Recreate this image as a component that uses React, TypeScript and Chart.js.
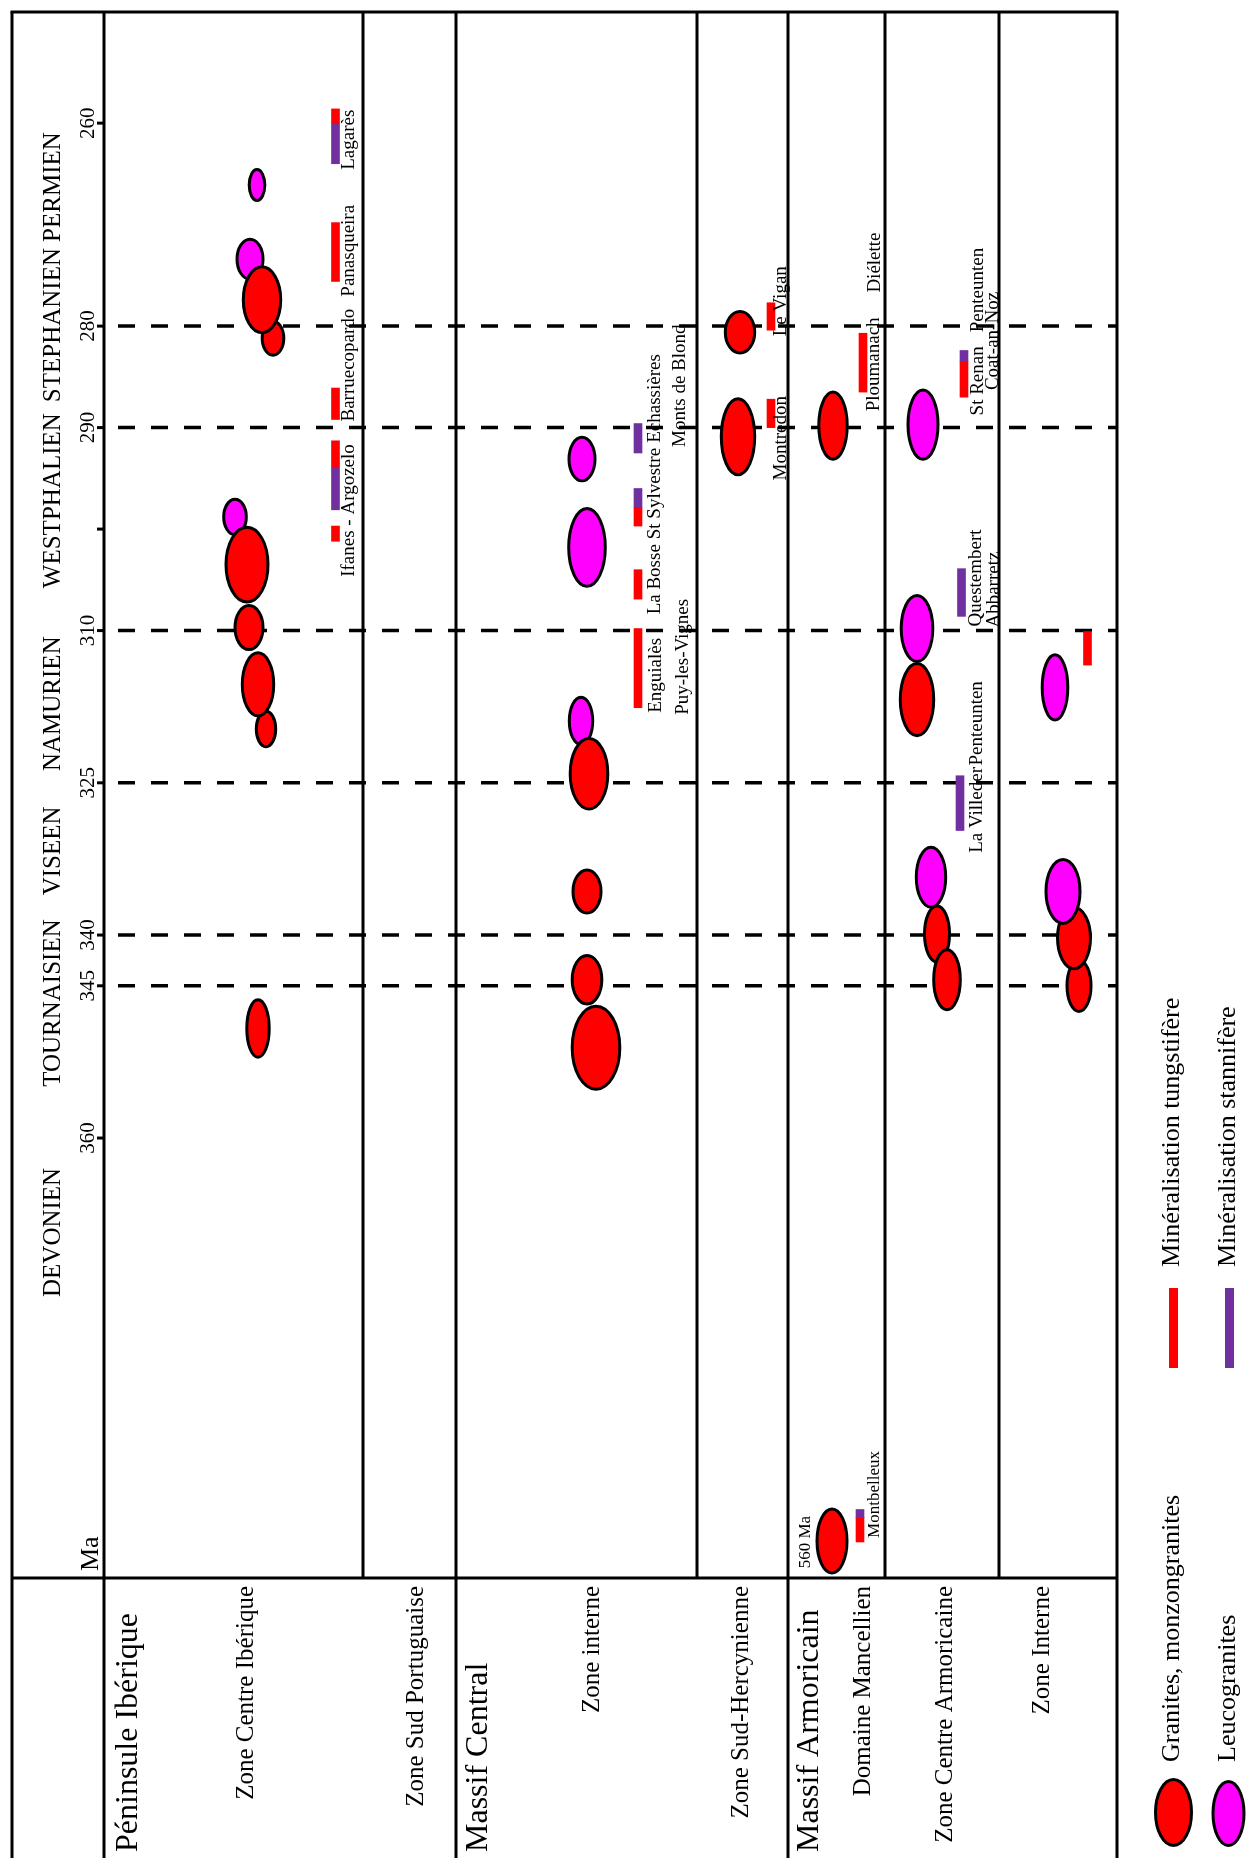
import React, { useEffect, useRef } from 'react';
import { Chart, registerables } from 'chart.js';

Chart.register(...registerables);

const W = 1246;
const H = 1858;
const SERIF = '"Liberation Serif", "Times New Roman", Times, serif';
const RED = '#ff0000';
const MAGENTA = '#ff00ff';
const PURPLE = '#7030a0';

// ---- time scale (Ma) ----
const tickValues = [260, 280, 290, 300, 310, 325, 340, 345, 360];
const tickLabels = ['260', '280', '290', '', '310', '325', '340', '345', '360'];
const stageBoundaries = [280, 290, 310, 325, 340, 345];
const stageNames = ['PERMIEN', 'STEPHANIEN', 'WESTPHALIEN', 'NAMURIEN', 'VISEEN', 'TOURNAISIEN', 'DEVONIEN'];
const stageLabelAge = [266.3, 279.9, 297.2, 317.2, 331.7, 346.7, 369.3];

// ---- regions and zones ----
const regionNames = ['Péninsule Ibérique', 'Massif Central', 'Massif Armoricain'];
const zoneNames = [
  'Zone Centre Ibérique',
  'Zone Sud Portuguaise',
  'Zone interne',
  'Zone Sud-Hercynienne',
  'Domaine Mancellien',
  'Zone Centre Armoricaine',
  'Zone Interne',
];

// ---- granites: [kind (G granite/monzogranite, L leucogranite), age Ma, ± Ma, lane, half width] ----
const granitesCentreIberique = [
  ['L', 266.1, 1.52, 152, 7.8],
  ['L', 273.4, 1.97, 145, 13],
  ['G', 281.2, 1.67, 168, 10.8],
  ['G', 277.4, 3.25, 157, 18.7],
  ['L', 298.8, 1.75, 130, 11.3],
  ['G', 303.5, 3.69, 142, 21],
  ['G', 309.7, 2.17, 144, 14],
  ['G', 319.7, 1.75, 161, 9.7],
  ['G', 315.3, 3.11, 153, 15.7],
  ['G', 349.2, 2.83, 153, 11.2],
];
const granitesMCInterne = [
  ['L', 293.1, 2.14, 477, 13],
  ['L', 301.8, 3.84, 482, 18.3],
  ['L', 318.9, 2.33, 476, 11.7],
  ['G', 324.1, 3.47, 484, 18.8],
  ['G', 335.7, 2.12, 482, 14],
  ['G', 344.4, 2.39, 482, 14.8],
  ['G', 351.1, 4.09, 491, 23.8],
];
const granitesSudHercynienne = [
  ['G', 280.6, 2.05, 635, 14.7],
  ['G', 290.9, 3.74, 633, 16.7],
];
const granitesMancellien = [
  ['G', 289.8, 3.31, 728, 14.2],
];
// Precambrian granite (560 Ma) shown at the foot of the scale
const precambrianGranite = ['G', 399.7, 3.15, 727, 15];
const precambrianLabel = '560 Ma';
const granitesCentreArmoricaine = [
  ['L', 289.7, 3.41, 818, 15],
  ['L', 309.8, 3.25, 812, 15.8],
  ['G', 316.8, 3.55, 812, 16.7],
  ['L', 334.3, 2.96, 826, 14.7],
  ['G', 339.9, 2.76, 832, 12.5],
  ['G', 344.4, 2.96, 842, 13.3],
];
const granitesArmoricainInterne = [
  ['L', 315.6, 3.21, 950, 12.8],
  ['G', 345.0, 2.53, 974, 12],
  ['G', 340.3, 3.01, 969, 16.5],
  ['L', 335.7, 3.15, 958, 17],
];

// ---- mineralisations: [lane, from Ma, to Ma] ----
const tungstenBars = [
  [230.5, 258.6, 260.0],
  [230.5, 269.8, 275.6],
  [230.5, 286.1, 289.2],
  [230.5, 291.3, 293.9],
  [230.5, 299.7, 301.2],
  [533, 297.9, 299.7],
  [533, 304.0, 306.9],
  [533, 309.8, 317.6],
  [666, 277.7, 280.4],
  [666, 287.2, 290.0],
  [758, 280.7, 286.5],
  [755, 397.4, 399.8],
  [859, 283.5, 287.0],
  [982.5, 310.1, 313.4],
];
const tinBars = [
  [230.5, 260.0, 264.0],
  [230.5, 293.9, 298.1],
  [533, 289.6, 292.5],
  [533, 296.0, 297.9],
  [755, 396.6, 397.4],
  [859, 282.4, 283.5],
  [856.5, 303.9, 308.6],
  [855, 324.3, 329.7],
];

// ---- deposit names: [text, lane (baseline), start age] ----
const depositLabels = [
  ['Lagarès', 248.7, 264.6],
  ['Panasqueira', 248.7, 277.1],
  ['Barruecopardo', 248.7, 289.4],
  ['Ifanes - Argozelo', 248.7, 304.7],
  ['La Bosse', 554.8, 308.4],
  ['St Sylvestre', 554.8, 301.0],
  ['Echassières', 554.8, 291.5],
  ['Monts de Blond', 579.8, 291.9],
  ['Enguialès', 556.3, 318.1],
  ['Puy-les-Vignes', 583.3, 318.3],
  ['Le Vigan', 681.4, 281.0],
  ['Montredon', 681.4, 295.2],
  ['Ploumanach', 774, 288.4],
  ['Diélette', 774.8, 276.7],
  ['St Renan', 878, 288.8],
  ['Penteunten', 878, 280.6],
  ['Coat-an-Noz', 893, 286.3],
  ['Questembert', 875.6, 309.6],
  ['Abbarretz', 893.8, 309.7],
  ['La Villeder', 877.3, 331.9],
  ['Penteunten', 877.3, 323.3],
];
const smallLabels = [
  ['Montbelleux', 773.5, 399.4],
];

// ---- layout (lanes) ----
const laneEdgesUpper = [258, 592, 780, 894]; // lines stopping at the table
const laneEdgesFull = [351, 683];              // lines running to the bottom
const laneRight = 1012;
const regionLanes = [31.5, 382, 713];
const zoneLanes = [148, 317.5, 494, 642.5, 764.5, 846.5, 944];

function vText(ctx: CanvasRenderingContext2D, text: string, x: number, y: number, size: number, align: CanvasTextAlign) {
  ctx.save();
  ctx.translate(x, y);
  ctx.rotate(-Math.PI / 2);
  ctx.font = `${size}px ${SERIF}`;
  ctx.textAlign = align;
  ctx.textBaseline = 'alphabetic';
  ctx.fillStyle = '#000';
  ctx.fillText(text, 0, 0);
  ctx.restore();
}

function drawEllipse(ctx: CanvasRenderingContext2D, cx: number, cy: number, rx: number, ry: number, fill: string) {
  ctx.beginPath();
  ctx.ellipse(cx, cy, rx, ry, 0, 0, Math.PI * 2);
  ctx.fillStyle = fill;
  ctx.fill();
  ctx.lineWidth = 3;
  ctx.strokeStyle = '#000';
  ctx.stroke();
}

const diagramPlugin = {
  id: 'diagram',
  beforeDatasetsDraw(chart: any) {
    const { ctx, chartArea: ca, scales } = chart;
    const x = scales.x;
    const y = scales.y;
    const xR = x.getPixelForValue(laneRight);
    ctx.save();
    ctx.strokeStyle = '#000';
    ctx.lineWidth = 3;
    ctx.lineCap = 'butt';
    const line = (x1: number, y1: number, x2: number, y2: number) => {
      ctx.beginPath();
      ctx.moveTo(x1, y1);
      ctx.lineTo(x2, y2);
      ctx.stroke();
    };
    const frameLeft = 12;
    // outer frame
    line(frameLeft - 1.5, ca.top, xR + 1.5, ca.top);
    line(frameLeft, ca.top, frameLeft, H);
    line(xR, ca.top, xR, H);
    // table split
    line(frameLeft, ca.bottom, xR, ca.bottom);
    // axis column
    line(ca.left, ca.top, ca.left, H);
    laneEdgesUpper.forEach((l) => {
      const px = x.getPixelForValue(l);
      line(px, ca.top, px, ca.bottom);
    });
    laneEdgesFull.forEach((l) => {
      const px = x.getPixelForValue(l);
      line(px, ca.top, px, H);
    });
    // ticks
    tickValues.forEach((v) => {
      const py = y.getPixelForValue(v);
      line(ca.left - 7, py, ca.left, py);
    });
    // stage boundaries (dashed)
    ctx.setLineDash([17, 16]);
    ctx.lineWidth = 3.5;
    stageBoundaries.forEach((v) => {
      const py = y.getPixelForValue(v);
      line(ca.left + 14, py, xR, py);
    });
    ctx.restore();
  },
  afterDatasetsDraw(chart: any) {
    const { ctx, chartArea: ca, scales } = chart;
    const x = scales.x;
    const y = scales.y;
    ctx.save();
    // granites
    const zones = [
      granitesCentreIberique,
      granitesMCInterne,
      granitesSudHercynienne,
      granitesMancellien,
      [precambrianGranite],
      granitesCentreArmoricaine,
      granitesArmoricainInterne,
    ];
    zones.forEach((list: any[]) => {
      list.forEach(([kind, age, span, lane, hw]) => {
        const cx = x.getPixelForValue(lane);
        const cy = y.getPixelForValue(age);
        const rx = Math.abs(x.getPixelForValue(lane + hw) - cx);
        const ry = Math.abs(y.getPixelForValue(age + span) - cy);
        drawEllipse(ctx, cx, cy, rx, ry, kind === 'G' ? RED : MAGENTA);
      });
    });
    // deposit labels
    depositLabels.forEach(([t, lane, age]: any) => {
      vText(ctx, t, x.getPixelForValue(lane), y.getPixelForValue(age), 19, 'left');
    });
    smallLabels.forEach(([t, lane, age]: any) => {
      vText(ctx, t, x.getPixelForValue(lane), y.getPixelForValue(age), 17, 'left');
    });
    vText(ctx, precambrianLabel, x.getPixelForValue(705.3), y.getPixelForValue(402.4), 17, 'left');

    // time axis labels
    tickValues.forEach((v, i) => {
      if (tickLabels[i]) vText(ctx, tickLabels[i], 94, y.getPixelForValue(v), 21, 'center');
    });
    stageNames.forEach((s, i) => {
      vText(ctx, s, 60, y.getPixelForValue(stageLabelAge[i]), 25, 'center');
    });
    vText(ctx, 'Ma', 98, ca.bottom - 7, 26, 'left');

    // table labels
    regionNames.forEach((r, i) => {
      vText(ctx, r, x.getPixelForValue(regionLanes[i]), H - 6, 32, 'left');
    });
    zoneNames.forEach((z, i) => {
      vText(ctx, z, x.getPixelForValue(zoneLanes[i]), ca.bottom + 8, 25, 'right');
    });

    // legend
    drawEllipse(ctx, 1173.5, 1812.5, 18, 33, RED);
    drawEllipse(ctx, 1228.5, 1813.5, 15.5, 32, MAGENTA);
    vText(ctx, 'Granites, monzongranites', 1179, 1762, 26, 'left');
    vText(ctx, 'Leucogranites', 1235, 1762, 26, 'left');
    ctx.fillStyle = RED;
    ctx.fillRect(1169, 1288, 9, 80);
    ctx.fillStyle = PURPLE;
    ctx.fillRect(1225, 1288, 9, 80);
    vText(ctx, 'Minéralisation tungstifère', 1179, 1267, 26, 'left');
    vText(ctx, 'Minéralisation stannifère', 1235, 1267, 26, 'left');
    ctx.restore();
  },
};

export default function App() {
  const ref = useRef<HTMLCanvasElement | null>(null);
  useEffect(() => {
    document.body.style.margin = '0';
    const canvas = ref.current;
    if (!canvas) return;
    const chart = new Chart(canvas, {
      type: 'bar',
      data: {
        datasets: [
          {
            label: 'Minéralisation tungstifère',
            data: tungstenBars.map(([lane, a, b]) => ({ x: lane, y: [a, b] })) as any,
            backgroundColor: RED,
            borderWidth: 0,
            barThickness: 8,
            grouped: false,
          } as any,
          {
            label: 'Minéralisation stannifère',
            data: tinBars.map(([lane, a, b]) => ({ x: lane, y: [a, b] })) as any,
            backgroundColor: PURPLE,
            borderWidth: 0,
            barThickness: 8,
            grouped: false,
          } as any,
        ],
      },
      options: {
        animation: false,
        responsive: false,
        maintainAspectRatio: false,
        devicePixelRatio: 1,
        layout: { padding: { left: 104, top: 12, right: W - 1117, bottom: H - 1578 } },
        scales: {
          x: { type: 'linear', min: -1, max: laneRight, display: false, offset: false, grid: { offset: false } } as any,
          y: { type: 'linear', min: 249.05, max: 403.35, reverse: true, display: false },
        },
        plugins: { legend: { display: false }, tooltip: { enabled: false }, title: { display: false } },
      },
      plugins: [diagramPlugin],
    });
    return () => chart.destroy();
  }, []);
  return (
    <div style={{ position: 'absolute', left: 0, top: 0, width: W, height: H, background: '#fff' }}>
      <canvas ref={ref} width={W} height={H} style={{ display: 'block', width: W, height: H }} />
    </div>
  );
}
